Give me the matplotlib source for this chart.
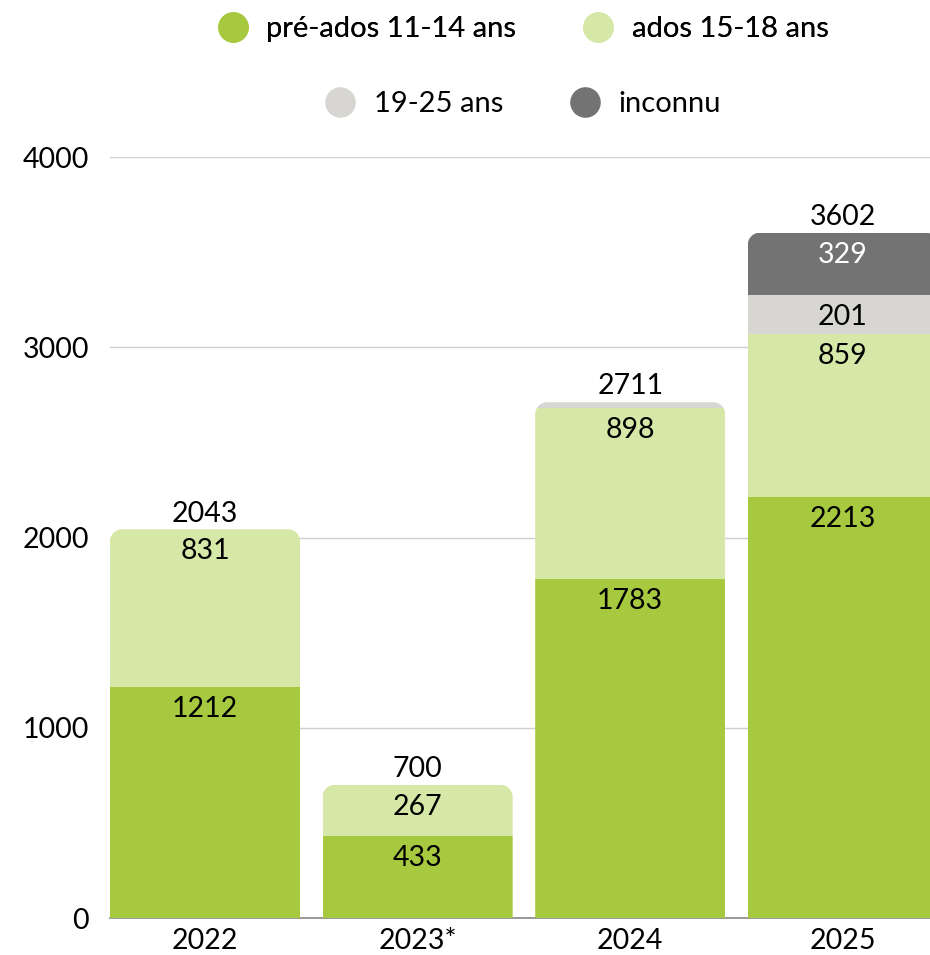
import numpy as np
import matplotlib.pyplot as plt
from matplotlib.path import Path
from matplotlib.patches import PathPatch
from matplotlib.lines import Line2D

plt.rcParams['font.family'] = ['Lato', 'DejaVu Sans']

years = ['2022', '2023*', '2024', '2025']
pre_ados = [1212, 433, 1783, 2213]
ados = [831, 267, 898, 859]
jeunes = [0, 0, 30, 201]
inconnu = [0, 0, 0, 329]
totals = [2043, 700, 2711, 3602]

series = [
    ('pré-ados 11-14 ans', pre_ados, '#a6c93f', 'black'),
    ('ados 15-18 ans', ados, '#d6e8a8', 'black'),
    ('19-25 ans', jeunes, '#d7d6d2', 'black'),
    ('inconnu', inconnu, '#737373', 'white'),
]

fs = 20.5

fig = plt.figure(figsize=(9.3, 9.55), dpi=100)
ax = fig.add_axes([110/930, 1-918/955, 820/930, (918-157)/955])

x = np.arange(len(years))
width = 0.894
ax.set_xlim(-width/2, 3.41)
ax.set_ylim(0, 4000)

# rounded top corners : radius ~12 px in both directions
rx = 12 / 212.5
ry = 12 * 4000 / 761


def rounded_top(xc, top):
    l, r = xc - width/2, xc + width/2
    k = 0.5523
    verts = [(l, 0), (l, top - ry),
             (l, top - ry + k*ry), (l + rx - k*rx, top), (l + rx, top),
             (r - rx, top),
             (r - rx + k*rx, top), (r, top - ry + k*ry), (r, top - ry),
             (r, 0), (l, 0)]
    codes = [Path.MOVETO, Path.LINETO,
             Path.CURVE4, Path.CURVE4, Path.CURVE4,
             Path.LINETO,
             Path.CURVE4, Path.CURVE4, Path.CURVE4,
             Path.LINETO, Path.CLOSEPOLY]
    return Path(verts, codes)


clips = []
for i in range(len(years)):
    p = PathPatch(rounded_top(x[i], totals[i]), transform=ax.transData,
                  facecolor='none', edgecolor='none')
    ax.add_patch(p)
    clips.append(p)

bottom = np.zeros(len(years))
for name, vals, col, tcol in series:
    vals = np.array(vals)
    bars = ax.bar(x, vals, width, bottom=bottom, color=col, label=name, zorder=3)
    for i, b in enumerate(bars):
        b.set_clip_path(clips[i])
        if vals[i] >= 100:
            ax.annotate(str(vals[i]), (x[i], bottom[i] + vals[i]),
                        xytext=(0, -6.5), textcoords='offset points',
                        ha='center', va='top', fontsize=fs, color=tcol, zorder=4)
    bottom = bottom + vals

for i, t in enumerate(totals):
    ax.annotate(str(t), (x[i], t), xytext=(0, 2), textcoords='offset points',
                ha='center', va='bottom', fontsize=fs, color='black')

ax.set_yticks([0, 1000, 2000, 3000, 4000])
ax.set_xticks(x)
ax.set_xticklabels(years)
ax.tick_params(axis='both', length=0, labelsize=fs, colors='black')
ax.tick_params(axis='y', pad=15)
ax.tick_params(axis='x', pad=7.5)
ax.grid(axis='y', color='#cfcfcf', linewidth=1, zorder=0)
ax.set_axisbelow(True)
for s in ['top', 'right', 'left']:
    ax.spines[s].set_visible(False)
ax.spines['bottom'].set_color('#888888')
ax.spines['bottom'].set_linewidth(1.2)

h1 = [Line2D([], [], marker='o', linestyle='', markersize=21,
             markerfacecolor=c, markeredgecolor=c) for _, _, c, _ in series]
leg1 = fig.legend(h1[:2], [s[0] for s in series[:2]], loc='center',
                  bbox_to_anchor=(516/930, 1-29/955), ncol=2, frameon=False,
                  fontsize=21, handletextpad=0.15, columnspacing=1.8)
fig.add_artist(leg1)
fig.legend(h1[2:], [s[0] for s in series[2:]], loc='center',
           bbox_to_anchor=(516/930, 1-104/955), ncol=2, frameon=False,
           fontsize=21, handletextpad=0.15, columnspacing=1.8)

fig.savefig('out.png', dpi=100)
